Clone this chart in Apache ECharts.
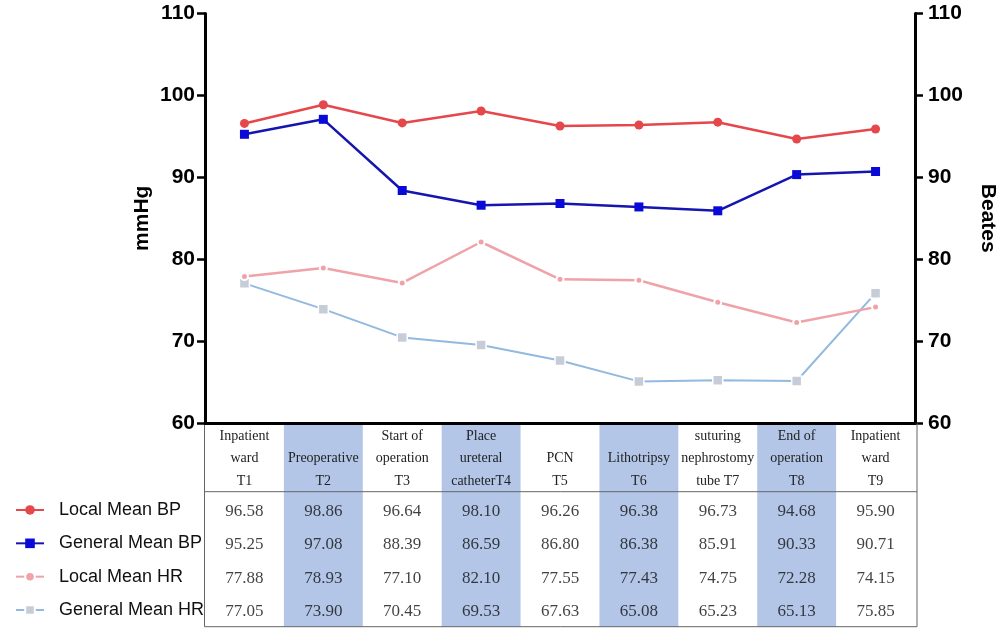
<!DOCTYPE html>
<html><head><meta charset="utf-8">
<script src="https://cdn.jsdelivr.net/npm/echarts@6/dist/echarts.min.js"></script>
<style>html,body{margin:0;padding:0;background:#fff;overflow:hidden}#c{width:999px;height:635px}</style>
</head><body><div id="c"></div>
<script>
const categories = ['Inpatient\nward\nT1','Preoperative\nT2','Start of\noperation\nT3','Place\nureteral\ncatheterT4','PCN\nT5','Lithotripsy\nT6','suturing\nnephrostomy\ntube T7','End of\noperation\nT8','Inpatient\nward\nT9'];
const seriesNames = ['Local Mean BP','General Mean BP','Local Mean HR','General Mean HR'];
const localBP   = [96.58,98.86,96.64,98.10,96.26,96.38,96.73,94.68,95.90];
const generalBP = [95.25,97.08,88.39,86.59,86.80,86.38,85.91,90.33,90.71];
const localHR   = [77.88,78.93,77.10,82.10,77.55,77.43,74.75,72.28,74.15];
const generalHR = [77.05,73.90,70.45,69.53,67.63,65.08,65.23,65.13,75.85];
const yTicks = {min:60, max:110, interval:10};

const rows = [localBP, generalBP, localHR, generalHR];
const tableData = [];
rows.forEach((r, ri) => r.forEach((v, ci) => tableData.push([ci, ri, v])));

const GL = 205, GW = 710, GT = 13.5, AXY = 423, HDR_LINE = 491.7, ROWS_TOP = 493.3, TBL_BOT = 626.7;
const rowH = (TBL_BOT - ROWS_TOP) / 4;
const sans = 'Liberation Sans, Arial, sans-serif';
const serif = 'Liberation Serif, Times New Roman, serif';

const styles = [
  {color:'#E5474B', line:'#E5474B', symbol:'circle', size:9, width:2.5, border:0},
  {color:'#0A0AD8', line:'#1515B0', symbol:'rect', size:9, width:2.5, border:0},
  {color:'#EFA3A8', line:'#EFA3A8', symbol:'circle', size:7, width:2.5, border:2},
  {color:'#C6CDD9', line:'#93B9E0', symbol:'rect', size:10, width:2, border:1.5}
];
const lineSeries = seriesNames.map((n, i) => ({
  name: n, type: 'line', xAxisIndex: 0, yAxisIndex: i < 2 ? 0 : 1,
  data: rows[i], symbol: styles[i].symbol, symbolSize: styles[i].size,
  lineStyle: {color: styles[i].line, width: styles[i].width},
  itemStyle: {color: styles[i].color, borderColor: '#fff', borderWidth: styles[i].border},
  z: 4 - i, silent: true, animation: false
}));

const legends = seriesNames.map((n, i) => ({
  data: [n], left: 10, top: ROWS_TOP + rowH * (i + 0.5) - 15,
  itemWidth: 28, itemHeight: 12, selectedMode: false,
  textStyle: {fontFamily: sans, fontSize: 18, color: '#111', lineHeight: 20, padding: [0,0,0,10]}
}));

const yAxisCommon = {
  type: 'value', min: yTicks.min, max: yTicks.max, interval: yTicks.interval,
  splitLine: {show: false},
  axisLine: {show: true, lineStyle: {color: '#000', width: 3}},
  axisTick: {show: true, length: 8, lineStyle: {color: '#000', width: 2.5}},
  nameLocation: 'middle', nameMoveOverlap: false,
  nameTextStyle: {fontFamily: sans, fontSize: 21, fontWeight: 'bold', color: '#000'},
  gridIndex: 0
};

const option = {
  animation: false,
  backgroundColor: '#fff',
  legend: legends,
  grid: [
    {left: GL, width: GW, top: GT, height: AXY - GT, containLabel: false, outerBoundsMode: 'none'},
    {left: GL, width: GW, top: ROWS_TOP, height: TBL_BOT - ROWS_TOP, containLabel: false, outerBoundsMode: 'none'}
  ],
  xAxis: [
    {type: 'category', data: categories, gridIndex: 0, boundaryGap: true, z: 5,
     axisLine: {lineStyle: {color: '#000', width: 3}},
     axisTick: {alignWithLabel: true, length: 5, lineStyle: {color: '#000', width: 2}},
     axisLabel: {interval: 0, margin: 2, fontFamily: serif, fontSize: 14, color: '#222', lineHeight: 22.5,
       formatter: v => '\n'.repeat(3 - v.split('\n').length) + v}},
    {type: 'category', data: categories, gridIndex: 1, boundaryGap: true, show: false}
  ],
  yAxis: [
    Object.assign({}, yAxisCommon, {position: 'left', name: 'mmHg', nameGap: 52, nameRotate: 90,
      axisLabel: {margin: 10, fontFamily: sans, fontSize: 21, fontWeight: 'bold', color: '#000'}}),
    Object.assign({}, yAxisCommon, {position: 'right', name: 'Beates', nameGap: 62, nameRotate: -90,
      axisLabel: {margin: 13, fontFamily: sans, fontSize: 21, fontWeight: 'bold', color: '#000'}}),
    {type: 'category', data: seriesNames, gridIndex: 1, inverse: true, show: false}
  ],
  series: lineSeries.concat([{
    name: 'table', type: 'scatter', xAxisIndex: 1, yAxisIndex: 2, data: tableData,
    symbolSize: 1, itemStyle: {color: 'rgba(0,0,0,0)'}, silent: true, z: 3,
    label: {show: true, position: 'inside', offset: [0, 1.5], color: '#111', fontFamily: serif, fontSize: 17,
      formatter: p => p.value[2].toFixed(2)}
  }])
};

const chart = echarts.init(document.getElementById('c'), null, {renderer: 'canvas'});
chart.setOption(option);

// Table decoration: shaded alternate columns and borders, from the category scale
const c0 = chart.convertToPixel({xAxisIndex: 0}, 0);
const c1 = chart.convertToPixel({xAxisIndex: 0}, 1);
const bw = c1 - c0;
const left = c0 - bw / 2, right = left + bw * categories.length;
const gfx = [];
categories.forEach((c, i) => {
  if (i % 2 === 1) {
    const cx = chart.convertToPixel({xAxisIndex: 0}, i);
    gfx.push({type: 'rect', z: 1, silent: true,
      shape: {x: cx - bw / 2, y: AXY + 1.5, width: bw, height: TBL_BOT - AXY - 1.5},
      style: {fill: '#B3C6E8'}});
  }
});
const ln = (x1, y1, x2, y2) => ({type: 'line', z: 1, silent: true,
  shape: {x1, y1, x2, y2}, style: {stroke: '#666', lineWidth: 1}});
gfx.push(ln(left - 0.5, AXY, left - 0.5, TBL_BOT));
gfx.push(ln(right + 2, AXY, right + 2, TBL_BOT));
gfx.push(ln(left - 0.5, TBL_BOT, right + 2, TBL_BOT));
gfx.push(ln(left - 0.5, HDR_LINE, right + 2, HDR_LINE));
chart.setOption({graphic: gfx});
</script>
</body></html>
